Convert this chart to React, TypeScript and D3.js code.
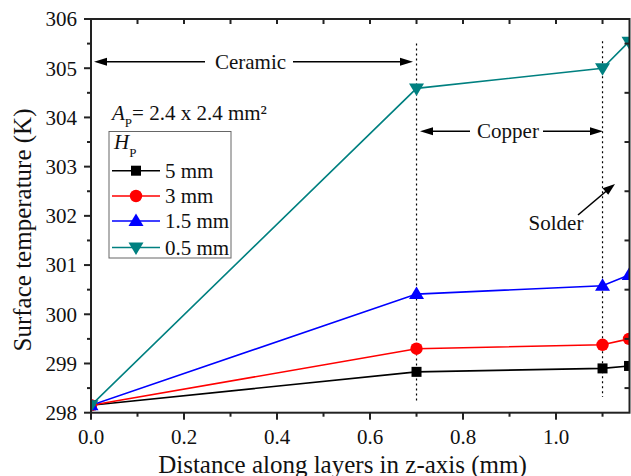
import React from "react";
import * as d3 from "d3";

// Layer boundary positions along z (mm) and surface temperatures (K)
const zPositions = [0, 0.7, 1.1, 1.157];
const temp5mm = [298.15, 298.83, 298.9, 298.95];
const temp3mm = [298.15, 299.3, 299.38, 299.5];
const temp1p5mm = [298.15, 300.41, 300.58, 300.8];
const temp0p5mm = [298.15, 304.59, 305.0, 305.54];

const seriesNames = ["5 mm", "3 mm", "1.5 mm", "0.5 mm"];
const seriesColors = ["#000000", "#ff0000", "#0000ff", "#008080"];
const seriesShapes = ["square", "circle", "triangleUp", "triangleDown"];
const seriesValues = [temp5mm, temp3mm, temp1p5mm, temp0p5mm];

const yMajorTicks = [298, 299, 300, 301, 302, 303, 304, 305, 306];
const xMajorTicks = [0, 0.2, 0.4, 0.6, 0.8, 1.0];
const xMinorTicks = [0.1, 0.3, 0.5, 0.7, 0.9, 1.1];
const yMinorTicks = [298.5, 299.5, 300.5, 301.5, 302.5, 303.5, 304.5, 305.5];

const layerBounds = [0.7, 1.1];

const W = 631;
const H = 476;
const FONT = "'Liberation Serif', 'Times New Roman', serif";

function Marker({ shape, x, y, color }: { shape: string; x: number; y: number; color: string }) {
  if (shape === "square") {
    return <rect x={x - 5} y={y - 5} width={10} height={10} fill={color} />;
  }
  if (shape === "circle") {
    return <circle cx={x} cy={y} r={6.2} fill={color} />;
  }
  if (shape === "triangleUp") {
    return <path d={`M${x},${y - 7.5}L${x + 7.5},${y + 5}L${x - 7.5},${y + 5}Z`} fill={color} />;
  }
  return <path d={`M${x},${y + 7.5}L${x + 7.5},${y - 5}L${x - 7.5},${y - 5}Z`} fill={color} />;
}

function ArrowHead({ x, y, dir }: { x: number; y: number; dir: number }) {
  // dir: -1 points left, 1 points right
  const len = 13;
  return <path d={`M${x},${y}L${x - dir * len},${y - 4}L${x - dir * len},${y + 4}Z`} fill="#000" />;
}

export default function App() {
  const left = 91;
  const right = 629.5;
  const top = 19;
  const bottom = 412.7;

  const x = d3.scaleLinear().domain([0, 1.158]).range([left, right]);
  const y = d3.scaleLinear().domain([298, 306]).range([bottom, top]);

  const line = d3
    .line<number>()
    .x((_, i) => x(zPositions[i]))
    .y((d) => y(d));

  const ceramicY = y(305.13);
  const copperY = y(303.72);

  return (
    <svg
      width={W}
      height={H}
      style={{ position: "absolute", left: 0, top: 0, background: "#fff" }}
      fontFamily={FONT}
    >
      <defs>
        <clipPath id="plotClip">
          <rect x={left} y={top} width={right - left} height={bottom - top} />
        </clipPath>
      </defs>
      <rect width={W} height={H} fill="#fff" />

      {/* layer boundaries */}
      {layerBounds.map((b, i) => (
        <line
          key={b}
          x1={x(b)}
          x2={x(b)}
          y1={y(i === 0 ? 305.5 : 305.55)}
          y2={y(i === 0 ? 298.22 : 298.32)}
          stroke="#000"
          strokeWidth={1.2}
          strokeDasharray="2,3"
        />
      ))}

      {/* data */}
      <g clipPath="url(#plotClip)">
        {seriesValues.map((vals, si) => (
          <path key={si} d={line(vals) || ""} fill="none" stroke={seriesColors[si]} strokeWidth={1.6} />
        ))}
        {seriesValues.map((vals, si) =>
          vals.map((v, i) => (
            <Marker key={`${si}-${i}`} shape={seriesShapes[si]} x={x(zPositions[i])} y={y(v)} color={seriesColors[si]} />
          ))
        )}
      </g>

      {/* frame */}
      <rect x={left} y={top} width={right - left} height={bottom - top} fill="none" stroke="#222" strokeWidth={2} />

      {/* left axis ticks */}
      {yMajorTicks.map((t) => (
        <g key={t}>
          <line x1={left - 7} x2={left} y1={y(t)} y2={y(t)} stroke="#222" strokeWidth={2} />
          <text x={77} y={y(t)} dy="0.35em" textAnchor="end" fontSize={21} fill="#111">
            {t}
          </text>
        </g>
      ))}
      {yMinorTicks.map((t) => (
        <g key={t}>
          <line x1={left - 4} x2={left} y1={y(t)} y2={y(t)} stroke="#222" strokeWidth={2} />
          <line x1={right - 5} x2={right} y1={y(t)} y2={y(t)} stroke="#222" strokeWidth={2} />
        </g>
      ))}

      {/* bottom / top axis ticks */}
      {xMajorTicks.map((t) => (
        <g key={t}>
          <line x1={x(t)} x2={x(t)} y1={bottom} y2={bottom + 7} stroke="#222" strokeWidth={2} />
          <text x={x(t)} y={444} textAnchor="middle" fontSize={21} fill="#111">
            {d3.format(".1f")(t)}
          </text>
        </g>
      ))}
      {xMinorTicks.map((t) => (
        <line key={t} x1={x(t)} x2={x(t)} y1={bottom} y2={bottom + 4} stroke="#222" strokeWidth={2} />
      ))}
      {[...xMajorTicks.slice(1), ...xMinorTicks].map((t) => (
        <line key={`top-${t}`} x1={x(t)} x2={x(t)} y1={top} y2={top + 5} stroke="#222" strokeWidth={2} />
      ))}

      {/* axis titles */}
      <text x={342.5} y={473} textAnchor="middle" fontSize={25} fill="#111">
        Distance along layers in z-axis (mm)
      </text>
      <text transform="translate(31,230) rotate(-90)" textAnchor="middle" fontSize={25} fill="#111">
        Surface temperature (K)
      </text>

      {/* ceramic annotation */}
      <line x1={100} x2={205} y1={ceramicY} y2={ceramicY} stroke="#000" strokeWidth={1.6} />
      <line x1={293} x2={407} y1={ceramicY} y2={ceramicY} stroke="#000" strokeWidth={1.6} />
      <ArrowHead x={94} y={ceramicY} dir={-1} />
      <ArrowHead x={413} y={ceramicY} dir={1} />
      <text x={250.5} y={ceramicY + 7} textAnchor="middle" fontSize={21} fill="#111">
        Ceramic
      </text>

      {/* copper annotation */}
      <line x1={426} x2={470} y1={copperY} y2={copperY} stroke="#000" strokeWidth={1.6} />
      <line x1={543} x2={597} y1={copperY} y2={copperY} stroke="#000" strokeWidth={1.6} />
      <ArrowHead x={420} y={copperY} dir={-1} />
      <ArrowHead x={603} y={copperY} dir={1} />
      <text x={508} y={copperY + 7} textAnchor="middle" fontSize={21} fill="#111">
        Copper
      </text>

      {/* solder annotation */}
      <text x={556} y={230} textAnchor="middle" fontSize={21} fill="#111">
        Solder
      </text>
      <line x1={578} y1={215} x2={607} y2={190.5} stroke="#000" strokeWidth={1.6} />
      <path d="M615,184L602.6,188.2L608.2,194.8Z" fill="#000" />

      {/* area note */}
      <text x={112} y={120} fontSize={21} fill="#111">
        <tspan fontStyle="italic">A</tspan>
        <tspan fontSize={13} dy={7}>P</tspan>
        <tspan dy={-7}>= 2.4 x 2.4 mm²</tspan>
      </text>

      {/* legend */}
      <rect x={109} y={131.5} width={122} height={126.5} fill="#fff" stroke="#666" strokeWidth={1} />
      <text x={114} y={149} fontSize={21} fill="#111">
        <tspan fontStyle="italic">H</tspan>
        <tspan fontSize={13} dy={8}>P</tspan>
      </text>
      {seriesNames.map((name, i) => {
        const cy = [170.7, 196, 221, 247.5][i];
        return (
          <g key={name}>
            <line x1={112} x2={160} y1={cy} y2={cy} stroke={seriesColors[i]} strokeWidth={1.6} />
            <Marker shape={seriesShapes[i]} x={136} y={cy} color={seriesColors[i]} />
            <text x={165} y={cy} dy="0.35em" fontSize={21} fill="#111">
              {name}
            </text>
          </g>
        );
      })}
    </svg>
  );
}
